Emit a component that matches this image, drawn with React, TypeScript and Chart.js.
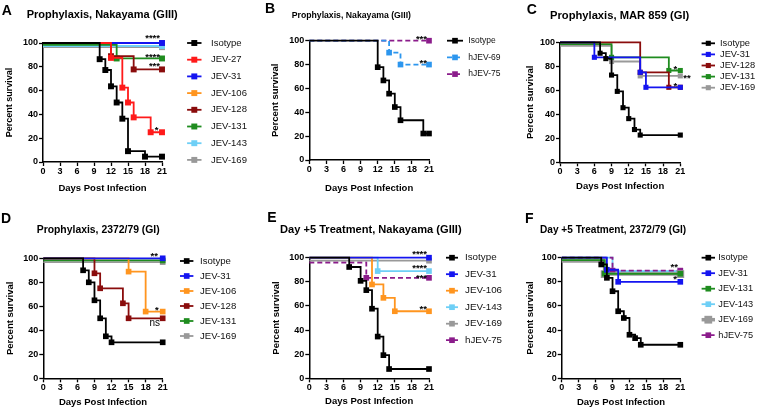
import React, { useEffect, useRef } from 'react';
import { Chart, registerables } from 'chart.js';
Chart.register(...registerables);

const FONT = '"Liberation Sans", Arial, Helvetica, sans-serif';

// ---------- shared axis data ----------
const DAY_TICKS = [0, 3, 6, 9, 12, 15, 18, 21];
const PCT_TICKS = [0, 20, 40, 60, 80, 100];
const X_TITLE = 'Days Post Infection';
const Y_TITLE = 'Percent survival';

// ---------- Panel A ----------
const A_SERIES = ['Isotype', 'JEV-27', 'JEV-31', 'JEV-106', 'JEV-128', 'JEV-131', 'JEV-143', 'JEV-169'];
const A_ISOTYPE = [[0, 100], [10, 86.4], [11, 77.3], [12, 63.6], [13, 50], [14, 36.4], [15, 9.1], [18, 4.5], [21, 4.5]];
const A_JEV27 = [[0, 100], [12, 87.5], [14, 62.5], [15, 50], [16, 37.5], [19, 25], [21, 25]];
const A_JEV31 = [[0, 100], [21, 100]];
const A_JEV106 = [[0, 100], [21, 100]];
const A_JEV128 = [[0, 100], [12, 88.9], [16, 77.8], [21, 77.8]];
const A_JEV131 = [[0, 98.5], [13, 87], [21, 87]];
const A_JEV143 = [[0, 97.5], [21, 97.5]];
const A_JEV169 = [[0, 96.5], [21, 96.5]];
const A_SIG = ['', '*', '****', '', '***', '****', '', ''];

// ---------- Panel B ----------
const B_SERIES = ['Isotype', 'hJEV-69', 'hJEV-75'];
const B_ISOTYPE = [[0, 100], [12, 77.8], [13, 66.7], [14, 55.6], [15, 44.4], [16, 33.3], [20, 22.2], [21, 22.2]];
const B_HJEV69 = [[0, 100], [14, 90], [16, 80], [21, 80]];
const B_HJEV75 = [[0, 100], [21, 100]];
const B_SIG = ['', '**', '***'];

// ---------- Panel C ----------
const C_SERIES = ['Isotype', 'JEV-31', 'JEV-128', 'JEV-131', 'JEV-169'];
const C_ISOTYPE = [[0, 100], [7, 90.9], [8, 86.4], [9, 72.7], [10, 59.1], [11, 45.5], [12, 36.4], [13, 27.3], [14, 22.7], [21, 22.7]];
const C_JEV31 = [[0, 100], [6, 87.5], [14, 75], [15, 62.5], [21, 62.5]];
const C_JEV128 = [[0, 100], [14, 75], [19, 62.5], [21, 62.5]];
const C_JEV131 = [[0, 98.5], [9, 87.5], [19, 76.5], [21, 76.5]];
const C_JEV169 = [[0, 97], [9, 84], [14, 72], [21, 72]];
const C_SIG = ['', '*', '', '*', '**'];

// ---------- Panel D ----------
const D_SERIES = ['Isotype', 'JEV-31', 'JEV-106', 'JEV-128', 'JEV-131', 'JEV-169'];
const D_ISOTYPE = [[0, 100], [7, 90], [8, 80], [9, 65], [10, 50], [11, 35], [12, 30], [21, 30]];
const D_JEV31 = [[0, 100], [21, 100]];
const D_JEV106 = [[0, 100], [15, 88.9], [18, 55.6], [21, 55.6]];
const D_JEV128 = [[0, 100], [9, 87.5], [10, 75], [14, 62.5], [15, 50], [21, 50]];
const D_JEV131 = [[0, 98.2], [21, 98.2]];
const D_JEV169 = [[0, 96.8], [21, 96.8]];
const D_SIG = ['', '**', '*', 'ns', '', ''];

// ---------- Panel E ----------
const E_SERIES = ['Isotype', 'JEV-31', 'JEV-106', 'JEV-143', 'JEV-169', 'hJEV-75'];
const E_ISOTYPE = [[0, 100], [7, 92.3], [9, 80.8], [10, 73.1], [11, 57.7], [12, 34.6], [13, 19.2], [14, 7.7], [21, 7.7]];
const E_JEV31 = [[0, 100], [21, 100]];
const E_JEV106 = [[0, 100], [11, 77.8], [13, 66.7], [15, 55.6], [21, 55.6]];
const E_JEV143 = [[0, 100], [12, 88.9], [21, 88.9]];
const E_JEV169 = [[0, 97.5], [21, 97.5]];
const E_HJEV75 = [[0, 96], [10, 83.3], [21, 83.3]];
const E_SIG = ['', '****', '**', '****', '', '***'];

// ---------- Panel F ----------
const F_SERIES = ['Isotype', 'JEV-31', 'JEV-131', 'JEV-143', 'JEV-169', 'hJEV-75'];
const F_ISOTYPE = [[0, 100], [7, 94.4], [8, 83.3], [9, 72.2], [10, 55.6], [11, 50], [12, 36.1], [13, 33.3], [14, 27.8], [21, 27.8]];
const F_JEV31 = [[0, 100], [8, 90], [10, 80], [21, 80]];
const F_JEV131 = [[0, 98], [7.6, 86.7], [21, 86.7]];
const F_JEV143 = [[0, 100], [9, 88.9], [21, 88.9]];
const F_JEV169 = [[0, 97.3], [7.6, 86.4], [21, 86.4]];
const F_HJEV75 = [[0, 100], [9, 89.3], [21, 89.3]];
const F_SIG = ['', '*', '', '', '', '**'];

// ---------- styles ----------
const COLORS: Record<string, string> = {
  'Isotype': '#000000',
  'JEV-27': '#FF1A1A',
  'JEV-31': '#1414F0',
  'JEV-106': '#FF951F',
  'JEV-128': '#8A0C0C',
  'JEV-131': '#1F8C1F',
  'JEV-143': '#6ECFF6',
  'JEV-169': '#999999',
  'hJEV-69': '#2C96EE',
  'hJEV-75': '#8B1C8B',
};
const DASHED = ['hJEV-69', 'hJEV-75'];

type Note = { i: number; dx: number; dy: number; align?: 'left' | 'right'; bold?: boolean; size?: number };
type Panel = {
  letter: string;
  title: string;
  titleSize: number;
  box: number[];
  area: number[];
  letterPos: number[];
  titlePos: number[];
  yTitleX: number;
  xTitleY: number;
  yTitleSize: number;
  legend: { x: number; y: number; gap: number; half: number; textX: number; size: number };
  series: string[];
  data: number[][][];
  sig: string[];
  notes: Note[];
  markR: number;
  over?: Record<string, { width?: number; r?: number; order?: number }>;
};

const PANELS: Panel[] = [
  {
    letter: 'A', title: 'Prophylaxis, Nakayama (GIII)', titleSize: 11,
    box: [0, 0, 262, 200], area: [43, 43, 162, 162],
    letterPos: [1.7, 15], titlePos: [26.7, 18.3], yTitleX: 10, xTitleY: 188, yTitleSize: 9,
    legend: { x: 194.3, y: 43, gap: 16.7, half: 7.2, textX: 211, size: 9.5 },
    series: A_SERIES,
    data: [A_ISOTYPE, A_JEV27, A_JEV31, A_JEV106, A_JEV128, A_JEV131, A_JEV143, A_JEV169],
    sig: A_SIG,
    notes: [
      { i: 2, dx: -2, dy: -2 }, { i: 5, dx: -2, dy: 1.5 }, { i: 4, dx: -2, dy: -0.5 }, { i: 1, dx: -3.5, dy: 0.4 },
    ],
    markR: 4.2,
  },
  {
    letter: 'B', title: 'Prophylaxis, Nakayama (GIII)', titleSize: 8.7,
    box: [250, 0, 262, 200], area: [309.3, 40.7, 429, 160],
    letterPos: [265, 13.3], titlePos: [291.7, 17.7], yTitleX: 275, xTitleY: 188, yTitleSize: 9.5,
    legend: { x: 455, y: 40.7, gap: 16.7, half: 8, textX: 468.3, size: 8.5 },
    series: B_SERIES,
    data: [B_ISOTYPE, B_HJEV69, B_HJEV75],
    sig: B_SIG,
    notes: [{ i: 2, dx: -2, dy: 1.4 }, { i: 1, dx: -2, dy: 1.9 }],
    markR: 4,
  },
  {
    letter: 'C', title: 'Prophylaxis, MAR 859 (GI)', titleSize: 11.2,
    box: [500, 0, 260, 200], area: [560, 42.3, 680.3, 162.3],
    letterPos: [526.7, 14], titlePos: [550, 19.3], yTitleX: 530, xTitleY: 186.7, yTitleSize: 9.5,
    legend: { x: 708.3, y: 43.3, gap: 11.1, half: 6.7, textX: 720, size: 9.3 },
    series: C_SERIES,
    data: [C_ISOTYPE, C_JEV31, C_JEV128, C_JEV131, C_JEV169],
    sig: C_SIG,
    notes: [{ i: 3, dx: -3, dy: 1.9 }, { i: 4, dx: 3, dy: 4.8, align: 'left' }, { i: 1, dx: -3, dy: 1.7 }],
    markR: 3.6,
  },
  {
    letter: 'D', title: 'Prophylaxis, 2372/79 (GI)', titleSize: 10.4,
    box: [0, 200, 262, 209], area: [43.3, 258.3, 162.7, 378.3],
    letterPos: [1, 222.7], titlePos: [36.7, 233.3], yTitleX: 10, xTitleY: 402.3, yTitleSize: 9.5,
    legend: { x: 186.7, y: 261, gap: 15, half: 6.7, textX: 200, size: 9.6 },
    series: D_SERIES,
    data: [D_ISOTYPE, D_JEV31, D_JEV106, D_JEV128, D_JEV131, D_JEV169],
    sig: D_SIG,
    notes: [{ i: 1, dx: -4.7, dy: 0.4 }, { i: 2, dx: -4, dy: 1.1 }, { i: 3, dx: -2.7, dy: 7.6, bold: false, size: 10 }],
    markR: 4,
  },
  {
    letter: 'E', title: 'Day +5 Treatment, Nakayama (GIII)', titleSize: 11.1,
    box: [250, 200, 262, 209], area: [309.3, 257.7, 429, 378.3],
    letterPos: [267.3, 221.7], titlePos: [280, 233], yTitleX: 276.7, xTitleY: 401.7, yTitleSize: 9.5,
    legend: { x: 452, y: 257.7, gap: 16.5, half: 6, textX: 465, size: 9.8 },
    series: E_SERIES,
    data: [E_ISOTYPE, E_JEV31, E_JEV106, E_JEV143, E_JEV169, E_HJEV75],
    sig: E_SIG,
    notes: [{ i: 1, dx: -2, dy: -0.6 }, { i: 3, dx: -2, dy: 0.3 }, { i: 5, dx: -2, dy: 3.6 }, { i: 2, dx: -2, dy: 0.8 }],
    markR: 4,
  },
  {
    letter: 'F', title: 'Day +5 Treatment, 2372/79 (GI)', titleSize: 10.1,
    box: [500, 200, 260, 209], area: [561.7, 257.7, 680.3, 378.3],
    letterPos: [525, 222.7], titlePos: [540, 233], yTitleX: 530, xTitleY: 402.3, yTitleSize: 9.5,
    legend: { x: 708.3, y: 257.7, gap: 15.5, half: 6.7, textX: 718.3, size: 9.2 },
    series: F_SERIES,
    data: [F_ISOTYPE, F_JEV31, F_JEV131, F_JEV143, F_JEV169, F_HJEV75],
    sig: F_SIG,
    notes: [{ i: 5, dx: -2.3, dy: -0.2 }, { i: 1, dx: -3.3, dy: 0.3 }],
    markR: 4,
    over: { 'JEV-169': { width: 3.5, r: 5.5 }, 'JEV-143': { order: 1 } },
  },
];

function styleOf(p: Panel, name: string) {
  const o = (p.over && p.over[name]) || {};
  return {
    color: COLORS[name] || '#000',
    width: o.width ?? 1.8,
    r: o.r ?? p.markR,
    dash: DASHED.includes(name) ? [5, 3] : [],
    order: o.order ?? 0,
  };
}

function makeDecor(p: Panel) {
  return {
    id: 'decor' + p.letter,
    afterDraw(chart: any) {
      const ctx: CanvasRenderingContext2D = chart.ctx;
      const bx = p.box[0];
      const by = p.box[1];
      ctx.save();
      ctx.fillStyle = '#000';
      ctx.textAlign = 'left';
      ctx.textBaseline = 'alphabetic';
      ctx.font = `bold 14px ${FONT}`;
      ctx.fillText(p.letter, p.letterPos[0] - bx, p.letterPos[1] - by);
      ctx.font = `bold ${p.titleSize}px ${FONT}`;
      ctx.fillText(p.title, p.titlePos[0] - bx, p.titlePos[1] - by);

      const lg = p.legend;
      p.series.forEach((name, i) => {
        const st = styleOf(p, name);
        const cx = lg.x - bx;
        const cy = lg.y - by + i * lg.gap;
        ctx.strokeStyle = st.color;
        ctx.lineWidth = st.width;
        ctx.setLineDash(st.dash);
        ctx.beginPath();
        ctx.moveTo(cx - lg.half, cy);
        ctx.lineTo(cx + lg.half, cy);
        ctx.stroke();
        ctx.setLineDash([]);
        const s = st.r * Math.SQRT2;
        ctx.fillStyle = st.color;
        ctx.fillRect(cx - s / 2, cy - s / 2, s, s);
        ctx.fillStyle = '#111';
        ctx.font = `${lg.size}px ${FONT}`;
        ctx.textBaseline = 'middle';
        ctx.textAlign = 'left';
        ctx.fillText(name, lg.textX - bx, cy);
      });

      const xs = chart.scales.x;
      const ys = chart.scales.y;
      p.notes.forEach((n) => {
        const pts = p.data[n.i];
        const last = pts[pts.length - 1];
        const px = xs.getPixelForValue(last[0]) + n.dx;
        const py = ys.getPixelForValue(last[1]) + n.dy;
        ctx.font = `${n.bold === false ? '' : 'bold '}${n.size ?? 9.5}px ${FONT}`;
        ctx.textAlign = n.align ?? 'right';
        ctx.textBaseline = 'alphabetic';
        ctx.fillStyle = '#000';
        ctx.fillText(p.sig[n.i], px, py);
      });
      ctx.restore();
    },
  };
}

function PanelChart({ p }: { p: Panel }) {
  const ref = useRef<HTMLCanvasElement>(null);
  const [bx, by, bw, bh] = p.box;
  useEffect(() => {
    const canvas = ref.current;
    if (!canvas) return;
    const [L, T, R, B] = p.area;
    const l = L - bx;
    const t = T - by;
    const r = R - bx;
    const b = B - by;
    const tickFont = { family: FONT, size: 9, weight: 'bold' as const };
    const xtf = 9.5;
    const ytf = p.yTitleSize;

    const datasets = p.series.map((name, i) => {
      const st = styleOf(p, name);
      const pts = p.data[i];
      return {
        label: name,
        data: pts.map(([x, y]) => ({ x, y })),
        borderColor: st.color,
        backgroundColor: st.color,
        pointBackgroundColor: st.color,
        pointBorderColor: st.color,
        borderWidth: st.width,
        borderDash: st.dash,
        stepped: 'before' as const,
        pointStyle: 'rect' as const,
        pointRadius: pts.map((_, k) => (k === 0 ? 0 : st.r)),
        pointHoverRadius: pts.map((_, k) => (k === 0 ? 0 : st.r)),
        pointBorderWidth: 0,
        clip: false as const,
        order: st.order,
        tension: 0,
        fill: false,
      };
    });

    const chart = new Chart(canvas, {
      type: 'line',
      data: { datasets },
      options: {
        animation: false,
        responsive: false,
        maintainAspectRatio: false,
        devicePixelRatio: 1,
        events: [],
        layout: { padding: { top: t, right: bw - r, left: 0, bottom: 0 } },
        plugins: { legend: { display: false }, tooltip: { enabled: false }, title: { display: false } },
        scales: {
          x: {
            type: 'linear',
            min: 0,
            max: 21,
            afterBuildTicks: (s: any) => { s.ticks = DAY_TICKS.map((v) => ({ value: v })); },
            afterFit: (s: any) => { s.height = bh - b; },
            grid: { drawOnChartArea: false, drawTicks: true, tickLength: 4, tickWidth: 1.3, tickColor: '#000' },
            border: { display: true, color: '#000', width: 1.5 },
            ticks: { color: '#000', font: tickFont, padding: 0, autoSkip: false, maxRotation: 0, stepSize: 3 },
            title: {
              display: true, text: X_TITLE, color: '#000',
              font: { family: FONT, size: xtf, weight: 'bold' },
              padding: { top: 0, bottom: bh - (p.xTitleY - by) - 0.6 * xtf },
            },
          },
          y: {
            type: 'linear',
            min: 0,
            max: 100,
            afterBuildTicks: (s: any) => { s.ticks = PCT_TICKS.map((v) => ({ value: v })); },
            afterFit: (s: any) => { s.width = l; },
            grid: { drawOnChartArea: false, drawTicks: true, tickLength: 4, tickWidth: 1.3, tickColor: '#000' },
            border: { display: true, color: '#000', width: 1.5 },
            ticks: { color: '#000', font: tickFont, padding: 1, stepSize: 20 },
            title: {
              display: true, text: Y_TITLE, color: '#000',
              font: { family: FONT, size: ytf, weight: 'bold' },
              padding: { top: (p.yTitleX - bx) - 0.6 * ytf, bottom: 0 },
            },
          },
        },
      } as any,
      plugins: [makeDecor(p)],
    });
    return () => chart.destroy();
  }, [p]);
  return (
    <canvas
      ref={ref}
      width={bw}
      height={bh}
      style={{ position: 'absolute', left: bx, top: by, width: bw, height: bh }}
    />
  );
}

export default function App() {
  return (
    <div style={{ position: 'fixed', left: 0, top: 0, width: 760, height: 409, background: '#fff', overflow: 'hidden' }}>
      {PANELS.map((p) => (
        <PanelChart key={p.letter} p={p} />
      ))}
    </div>
  );
}
